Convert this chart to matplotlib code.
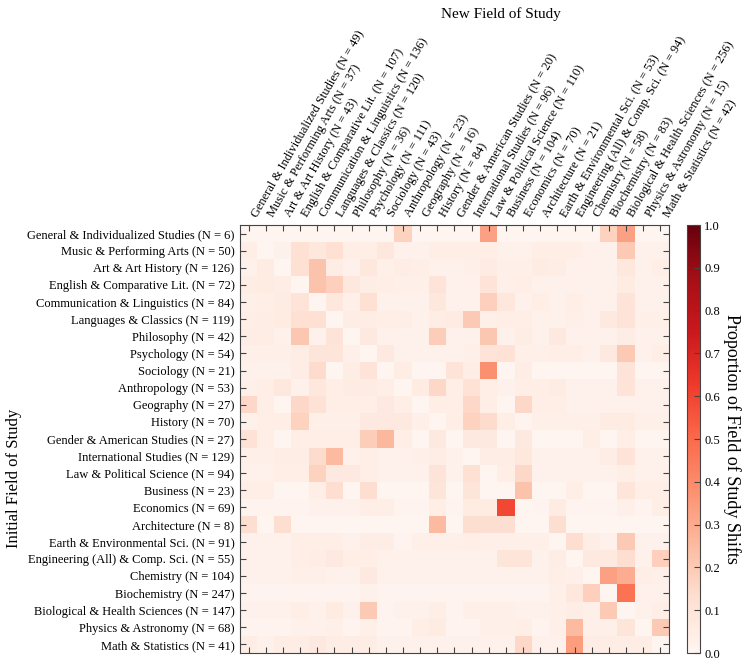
#!/usr/bin/env python

import matplotlib
matplotlib.use("Agg")
import matplotlib.pyplot as plt
import numpy as np

plt.rcParams["font.family"] = ["Liberation Serif", "DejaVu Serif"]

new_fields = [
    "General & Individualized Studies", "Music & Performing Arts", "Art & Art History",
    "English & Comparative Lit.", "Communication & Linguistics", "Languages & Classics",
    "Philosophy", "Psychology", "Sociology", "Anthropology", "Geography", "History",
    "Gender & American Studies", "International Studies", "Law & Political Science",
    "Business", "Economics", "Architecture", "Earth & Environmental Sci.",
    "Engineering (All) & Comp. Sci.", "Chemistry", "Biochemistry",
    "Biological & Health Sciences", "Physics & Astronomy", "Math & Statistics",
]
new_counts = [49, 37, 43, 107, 136, 120, 36, 111, 43, 23, 16, 84, 20, 96, 110,
              104, 70, 21, 53, 94, 58, 83, 256, 15, 42]

initial_fields = list(new_fields)
initial_counts = [6, 50, 126, 72, 84, 119, 42, 54, 21, 53, 27, 70, 27, 129, 94,
                  23, 69, 8, 91, 55, 104, 247, 147, 68, 41]

# rows = initial field, columns = new field
shift_props = [
    [0, 0, 0, 0, 0, 0, 0, 0, 0, .17, 0, 0, 0, 0, .33, 0, 0, 0, 0, 0, 0, .17, .33, 0, 0],
    [.04, 0, .02, .12, .08, .12, .04, .04, .08, .02, .02, .04, .04, .04, .04, .02, .02, .04, .04, .04, .02, .02, .2, .02, .02],
    [.02, .06, 0, .12, .22, .05, .02, .08, .03, .05, .04, .02, .02, .03, .06, .03, .03, .06, .05, .02, .02, .02, .08, .02, .04],
    [.05, .06, .05, 0, .22, .18, .08, .05, .04, .03, .03, .1, .02, .02, .1, .03, .04, .02, .02, .02, .02, .02, .06, .02, .02],
    [.03, .04, .06, .1, 0, .08, .03, .12, .02, .02, .02, .08, .02, .02, .18, .08, .02, .04, .02, .04, .02, .02, .1, .02, .02],
    [.04, .05, .06, .12, .12, 0, .05, .05, .04, .04, .02, .05, .06, .2, .03, .04, .04, .02, .02, .03, .02, .07, .1, .03, .03],
    [.05, .05, .02, .21, .02, .1, 0, .07, .02, .02, .02, .19, .02, .02, .21, .02, .05, .02, .07, .02, .02, .02, .05, .02, .02],
    [.03, .03, .03, .05, .09, .09, .03, 0, .07, .02, .02, .02, .02, .03, .1, .11, .03, .03, .04, .04, .02, .07, .2, .02, .04],
    [.02, .02, .02, .05, .14, 0, .05, .1, 0, .05, 0, 0, .1, .05, .38, 0, .05, 0, 0, 0, 0, 0, .1, 0, 0],
    [.03, .04, .08, .02, .08, .04, .06, .06, .04, 0, .06, .15, .04, .11, .04, .02, .04, .04, .06, .02, .02, .02, .1, .02, .02],
    [.15, .04, 0, .15, .11, .04, .04, .04, .07, .04, 0, .04, .04, .15, .04, 0, .15, .04, .04, .02, .02, .02, .02, .02, .02],
    [.02, .04, .04, .17, .03, .03, .03, .07, .07, .07, .03, 0, .04, .17, .14, .04, .01, .03, .03, .03, .03, .06, .06, .03, .03],
    [.11, .04, 0, .04, .04, .04, .04, .19, .26, .04, 0, .07, 0, .07, .07, 0, .07, 0, 0, 0, .04, 0, .04, 0, 0],
    [.03, .03, .05, .05, .14, .25, .02, .04, .02, .02, .03, .05, .02, 0, .05, .05, .08, .02, .02, .02, .02, .05, .1, .02, .02],
    [.02, .02, .04, .04, .17, .07, .07, .04, .02, .02, .02, .1, .02, .12, 0, .04, .15, .02, .02, .02, .02, .02, .04, .02, .02],
    [.04, .04, 0, 0, .04, .13, 0, .13, 0, 0, 0, .09, 0, .09, 0, 0, .22, 0, 0, .04, 0, 0, .09, .04, .04],
    [.01, .01, .01, .01, .02, .02, .02, .04, .04, .01, .01, .04, .01, .06, .06, .59, 0, .01, .06, .01, .01, .01, .03, .01, .04],
    [.125, 0, .125, 0, 0, 0, 0, 0, 0, 0, 0, .25, 0, .125, .125, .125, 0, 0, .125, 0, 0, 0, 0, 0, 0],
    [.02, .02, .02, .04, .04, .04, .02, .05, .05, .01, .03, .03, .03, .04, .03, .03, .03, .03, 0, .13, .05, .02, .2, .02, .02],
    [.02, .02, .02, .04, .05, .07, .04, .04, .02, .02, .02, .02, .02, .02, .02, .09, .09, .02, .05, 0, .07, .07, .13, .02, .18],
    [.02, .02, .02, .03, .03, .02, .02, .07, .02, .02, .02, .02, .02, .02, .02, .02, .02, .02, .04, .03, 0, .33, .29, .04, .03],
    [.01, .01, .01, .01, .01, .01, .01, .02, .01, .01, .01, .01, .01, .01, .01, .01, .01, .01, .03, .08, .18, 0, .47, .02, .02],
    [.02, .02, .02, .04, .02, .06, .02, .2, .01, .02, .02, .04, .01, .03, .03, .03, .02, .02, .03, .05, .03, .2, 0, .02, .04],
    [.01, .01, .01, .02, .02, .03, .01, .03, .01, .01, .04, .06, .01, .01, .03, .03, .04, .01, .03, .25, .03, .03, .09, 0, .2],
    [.05, .02, .05, .05, .07, .05, .05, .05, .02, .02, .02, .02, .02, .02, .02, .02, .15, .02, .02, .34, .05, .05, .05, .05, 0],
]


def make_plot():
    W, H = 748, 659
    fig = plt.figure(figsize=(W / 100, H / 100), dpi=100)
    ax = fig.add_axes([240 / W, 1 - 653 / H, 429 / W, 428 / H])
    cax = fig.add_axes([687 / W, 1 - 653 / H, 13 / W, 428 / H])

    img = ax.imshow(np.array(shift_props), cmap="Reds", vmin=0, vmax=1,
                    aspect="auto", interpolation="nearest")

    n_new = len(new_fields)
    n_init = len(initial_fields)
    ax.set_xticks(range(n_new))
    ax.set_yticks(range(n_init))
    ax.set_xticklabels(["%s (N = %d)" % (f, n) for f, n in zip(new_fields, new_counts)],
                       rotation=60, ha="left", fontsize=9)
    ax.set_yticklabels(["%s (N = %d)" % (f, n) for f, n in zip(initial_fields, initial_counts)],
                       fontsize=9)
    ax.xaxis.tick_top()
    ax.tick_params(axis="both", which="both", direction="in", length=4, width=0.8,
                   color="#444444", top=True, bottom=True, left=True, right=True,
                   labeltop=True, labelbottom=False, pad=4)
    for sp in ax.spines.values():
        sp.set_color("#444444")

    cb = fig.colorbar(img, cax=cax)
    cb.set_ticks(np.arange(0, 1.01, 0.1))
    cb.ax.tick_params(direction="in", length=4, width=0.8, color="#444444",
                      labelsize=9, pad=3)
    cb.outline.set_edgecolor("#444444")
    cb.set_label("Proportion of Field of Study Shifts", rotation=270,
                 fontsize=13, labelpad=15)

    fig.text(501 / W, 1 - 14 / H, "New Field of Study", ha="center", va="center",
             fontsize=11)
    fig.text(14 / W, 1 - 478 / H, "Initial Field of Study", ha="center", va="center",
             rotation=90, fontsize=12)

    plt.savefig("out.png", dpi=100)
    plt.close()


def main():
    make_plot()


if __name__ == "__main__":
    main()
